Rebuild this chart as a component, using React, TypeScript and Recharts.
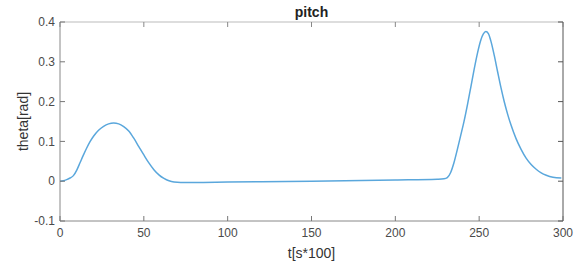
import React from 'react';
import { LineChart, Line, XAxis, YAxis, Label } from 'recharts';

// time samples (t[s*100]) and pitch angle (rad)
const tValues = [
  0, 2, 4, 6, 8, 10, 12, 14, 16, 18, 20, 23, 26, 29, 32, 35, 38, 41, 44, 47, 50, 53, 56, 59, 62, 65, 68, 72, 80,
  100, 150, 200, 225, 229, 231, 233, 235, 237, 239, 241, 243, 245, 247, 249, 251, 252.5, 254, 255.5, 257, 259,
  261, 263, 265, 267, 269, 272, 275, 278, 281, 284, 287, 290, 294, 299
];
const thetaValues = [
  0, 0.001, 0.004, 0.008, 0.014, 0.028, 0.047, 0.066, 0.084, 0.1, 0.113, 0.128, 0.138, 0.144, 0.146, 0.144,
  0.137, 0.126, 0.108, 0.087, 0.066, 0.046, 0.029, 0.016, 0.007, 0.001, -0.002, -0.003, -0.003,
  -0.002, 0.0, 0.003, 0.005, 0.006, 0.009, 0.022, 0.047, 0.08, 0.115, 0.151, 0.192, 0.236, 0.281, 0.322, 0.355,
  0.37, 0.376, 0.371, 0.352, 0.316, 0.275, 0.235, 0.199, 0.168, 0.141, 0.107, 0.08, 0.058, 0.042, 0.03, 0.021,
  0.015, 0.01, 0.008
];
const xTicks = [0, 50, 100, 150, 200, 250, 300];
const yTicks = [-0.1, 0, 0.1, 0.2, 0.3, 0.4];

const data = tValues.map((t, i) => ({ t, theta: thetaValues[i] }));

const FONT = 'Arial, "Liberation Sans", Helvetica, sans-serif';
const TICK_COLOR = '#4a4a4a';
const TICK_LEN = 5;

// MATLAB style: tick marks point into the plot box
const BottomTick = ({ x, y, payload }: any) => (
  <g>
    <line x1={x} x2={x} y1={y} y2={y - TICK_LEN} stroke="#777" />
    <text x={x} y={y + 12} dy="0.35em" textAnchor="middle" fill={TICK_COLOR} fontSize={12} fontFamily={FONT}>
      {payload.value}
    </text>
  </g>
);

const TopTick = ({ x, y }: any) => <line x1={x} x2={x} y1={y} y2={y + TICK_LEN} stroke="#888" />;

const LeftTick = ({ x, y, payload }: any) => (
  <g>
    <line x1={x} x2={x + TICK_LEN} y1={y} y2={y} stroke="#777" />
    <text x={x - 5} y={y} dy="0.35em" textAnchor="end" fill={TICK_COLOR} fontSize={12} fontFamily={FONT}>
      {String(payload.value)}
    </text>
  </g>
);

const RightTick = ({ x, y }: any) => <line x1={x} x2={x - TICK_LEN} y1={y} y2={y} stroke="#555" />;

export default function App() {
  return (
    <div style={{ position: 'absolute', left: 0, top: 0, background: '#fff' }}>
      <LineChart width={582} height={267} data={data} margin={{ top: 21, right: 18, left: 0, bottom: 0 }}>
        <XAxis
          xAxisId="b"
          dataKey="t"
          type="number"
          domain={[0, 300]}
          ticks={xTicks}
          height={46}
          tickSize={0}
          tickMargin={0}
          tickLine={false}
          axisLine={{ stroke: '#888' }}
          tick={<BottomTick />}
        >
          <Label
            content={({ viewBox }: any) => (
              <text
                x={viewBox.x + viewBox.width / 2}
                y={253}
                dy="0.35em"
                textAnchor="middle"
                fill="#333"
                fontSize={14}
                fontFamily={FONT}
              >
                t[s*100]
              </text>
            )}
          />
        </XAxis>
        <XAxis
          xAxisId="top"
          dataKey="t"
          orientation="top"
          type="number"
          domain={[0, 300]}
          ticks={xTicks}
          height={1}
          tickSize={0}
          tickMargin={0}
          tickLine={false}
          axisLine={{ stroke: '#bbb' }}
          tick={<TopTick />}
        >
          <Label
            content={({ viewBox }: any) => (
              <text
                x={viewBox.x + viewBox.width / 2}
                y={12}
                dy="0.35em"
                textAnchor="middle"
                fill="#222"
                fontSize={14}
                fontWeight="bold"
                fontFamily={FONT}
              >
                pitch
              </text>
            )}
          />
        </XAxis>
        <YAxis
          yAxisId="l"
          type="number"
          domain={[-0.1, 0.4]}
          ticks={yTicks}
          width={60}
          tickSize={0}
          tickMargin={0}
          tickLine={false}
          axisLine={{ stroke: '#888' }}
          tick={<LeftTick />}
        >
          <Label
            content={({ viewBox }: any) => {
              const cy = viewBox.y + viewBox.height / 2;
              return (
                <text
                  x={23}
                  y={cy}
                  dy="0.35em"
                  textAnchor="middle"
                  transform={`rotate(-90 23 ${cy})`}
                  fill="#333"
                  fontSize={14}
                  fontFamily={FONT}
                >
                  theta[rad]
                </text>
              );
            }}
          />
        </YAxis>
        <YAxis
          yAxisId="r"
          orientation="right"
          type="number"
          domain={[-0.1, 0.4]}
          ticks={yTicks}
          width={1}
          tickSize={0}
          tickMargin={0}
          tickLine={false}
          axisLine={{ stroke: '#555' }}
          tick={<RightTick />}
        />
        {/* invisible copy so the top / right box axes get drawn */}
        <Line
          xAxisId="top"
          yAxisId="r"
          dataKey="theta"
          type="monotone"
          stroke="none"
          dot={false}
          activeDot={false}
          legendType="none"
          isAnimationActive={false}
        />
        <Line
          xAxisId="b"
          yAxisId="l"
          dataKey="theta"
          type="monotone"
          stroke="#5aa7dc"
          strokeWidth={1.5}
          dot={false}
          isAnimationActive={false}
        />
      </LineChart>
    </div>
  );
}
